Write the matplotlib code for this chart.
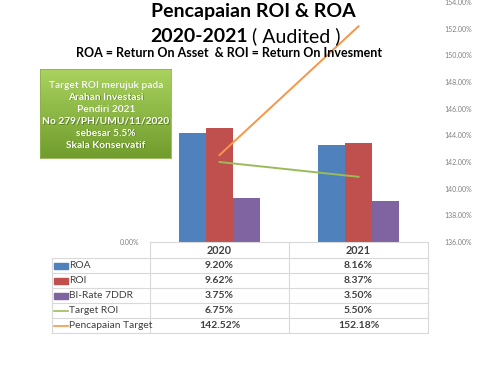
import numpy as np
import matplotlib.pyplot as plt
from matplotlib.colors import LinearSegmentedColormap
from matplotlib.patches import Rectangle
from matplotlib.lines import Line2D

plt.rcParams['font.family'] = ['Lato', 'DejaVu Sans']

# data
years = ["2020", "2021"]
roa = [9.20, 8.16]
roi = [9.62, 8.37]
bi_rate = [3.75, 3.50]
target_roi = [6.75, 5.50]
pencapaian = [142.52, 152.18]
sec_ticks = [136, 138, 140, 142, 144, 146, 148, 150, 152, 154]
box_lines = ["Target ROI merujuk pada", "Arahan Investasi", "Pendiri 2021",
             "No 279/PH/UMU/11/2020", "sebesar 5.5%", "Skala Konservatif"]

W, H = 500, 375
def fx(px):
    return px / W
def fy(py):
    return 1 - py / H

fig = plt.figure(figsize=(5, 3.75), dpi=100)
fig.patch.set_facecolor("white")

# main axes
ax = fig.add_axes([fx(150), fy(242), fx(428) - fx(150), fy(2) - fy(242)])
x = np.arange(len(years))
w = 0.192
ax.bar(x - w, roa, w, color="#4F81BD", label="ROA")
ax.bar(x, roi, w, color="#C0504D", label="ROI")
ax.bar(x + w, bi_rate, w, color="#8064A2", label="BI-Rate 7DDR")
ax.plot(x, target_roi, color="#9BBB59", lw=1.4)
ax.set_xlim(-0.5, 1.5)
ax.set_ylim(0, 20.25)
ax.set_xticks([])
ax.set_yticks([0])
ax.set_yticklabels(["0.00%"], fontsize=5, color="#808080")
ax.tick_params(axis="y", length=0, pad=8)
for s in ax.spines.values():
    s.set_visible(False)
ax.patch.set_alpha(0)

ax2 = ax.twinx()
ax2.plot(x, pencapaian, color="#F79646", lw=1.4)
ax2.set_ylim(136, 154)
ax2.set_yticks(sec_ticks)
ax2.set_yticklabels(["%.2f%%" % t for t in sec_ticks], fontsize=5, color="#808080")
ax2.tick_params(axis="y", length=0, pad=12)
for s in ax2.spines.values():
    s.set_visible(False)

# titles
fig.text(fx(253), fy(12), "Pencapaian ROI & ROA", fontsize=14, fontweight="bold",
         ha="center", va="center")
fig.text(fx(248), fy(36), "2020-2021", fontsize=14, fontweight="bold",
         ha="right", va="center")
fig.text(fx(252), fy(36), "( Audited )", fontsize=14, ha="left", va="center")
fig.text(fx(229), fy(53), "ROA = Return On Asset  & ROI = Return On Invesment",
         fontsize=9, fontweight="bold", ha="center", va="center")

# green box
bax = fig.add_axes([fx(40), fy(158), fx(171) - fx(40), fy(69) - fy(158)])
cmap = LinearSegmentedColormap.from_list("g", ["#719D2E", "#A9D25E"])
grad = np.linspace(0, 1, 100).reshape(-1, 1)
bax.imshow(grad, aspect="auto", cmap=cmap, origin="lower", extent=[0, 1, 0, 1])
bax.set_xticks([])
bax.set_yticks([])
for s in bax.spines.values():
    s.set_color("#8fb04a")
    s.set_linewidth(0.6)
for i, t in enumerate(box_lines):
    yy = 85 + i * 12
    fig.text(fx(106.6), fy(yy + 0.8), t, fontsize=7.3, fontweight="bold", color="#3f5c16",
             ha="center", va="center", alpha=0.55)
    fig.text(fx(106), fy(yy), t, fontsize=7.3, fontweight="bold", color="white",
             ha="center", va="center")

# data table
grid_c = "#D9D9D9"
col_x = [52, 150, 289, 428]
row_y = [242, 258, 273, 288, 303, 318, 333]
def hline(y, x0, x1):
    fig.add_artist(Line2D([fx(x0), fx(x1)], [fy(y), fy(y)], color=grid_c, lw=0.8))
def vline(xx, y0, y1):
    fig.add_artist(Line2D([fx(xx), fx(xx)], [fy(y0), fy(y1)], color=grid_c, lw=0.8))

hline(242, 150, 428)
for y in row_y[1:]:
    hline(y, 52, 428)
vline(52, 258, 333)
for xx in col_x[1:]:
    vline(xx, 242, 333)

centers = [219.5, 358.5]
for j, yr in enumerate(years):
    fig.text(fx(centers[j]), fy(250), yr, fontsize=7.8, fontweight="bold",
             color="#404040", ha="center", va="center")

rows = [("ROA", roa, "bar", "#4F81BD"),
        ("ROI", roi, "bar", "#C0504D"),
        ("BI-Rate 7DDR", bi_rate, "bar", "#8064A2"),
        ("Target ROI", target_roi, "line", "#9BBB59"),
        ("Pencapaian Target", pencapaian, "line", "#F79646")]
for i, (name, vals, kind, col) in enumerate(rows):
    yc = (row_y[i + 1] + row_y[i + 2]) / 2
    if kind == "bar":
        fig.add_artist(Rectangle((fx(54), fy(yc + 3)), fx(14), fy(0) - fy(6),
                                 color=col, transform=fig.transFigure))
    else:
        fig.add_artist(Line2D([fx(54), fx(68)], [fy(yc), fy(yc)], color=col, lw=1.2))
    fig.text(fx(69), fy(yc), name, fontsize=7.4, color="#404040", ha="left", va="center")
    for j in range(len(years)):
        fig.text(fx(centers[j]), fy(yc), "%.2f%%" % vals[j], fontsize=7.5,
                 fontweight="bold", color="#404040", ha="center", va="center")

fig.savefig("out.png", dpi=100)
